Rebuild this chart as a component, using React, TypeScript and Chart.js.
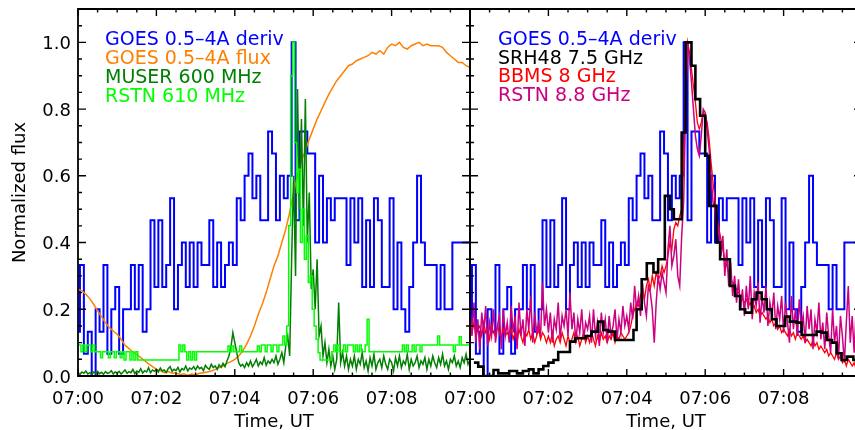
import React, { useEffect, useRef } from 'react';
import { Chart, registerables } from 'chart.js';

Chart.register(...registerables);

// ---------- tick labels ----------
const X_TICK_MIN = [0, 2, 4, 6, 8];
const X_TICK_LABELS = ['07:00', '07:02', '07:04', '07:06', '07:08'];
const Y_TICK_VALS = [0, 0.2, 0.4, 0.6, 0.8, 1.0];
const Y_TICK_LABELS = ['0.0', '0.2', '0.4', '0.6', '0.8', '1.0'];

// ---------- data (minutes after 07:00) ----------
// GOES 0.5-4A derivative, one value per 0.1 min
const goesDeriv = [
  0.133, 0.333, 0.067, 0.133, 0, 0.2, 0.133, 0.333, 0.067, 0.2,
  0.267, 0.067, 0.2, 0.2, 0.333, 0.2, 0.333, 0.133, 0.2, 0.467,
  0.267, 0.467, 0.267, 0.333, 0.533, 0.2, 0.333, 0.4, 0.267, 0.4,
  0.267, 0.4, 0.333, 0.333, 0.467, 0.267, 0.4, 0.267, 0.333, 0.4,
  0.333, 0.533, 0.467, 0.6, 0.667, 0.533, 0.6, 0.467, 0.467, 0.733,
  0.667, 0.467, 0.6, 0.533, 0.6, 1.0, 0.467, 0.733, 0.733, 0.667,
  0.667, 0.4, 0.6, 0.4, 0.533, 0.467, 0.533, 0.533, 0.533, 0.333,
  0.533, 0.4, 0.533, 0.267, 0.467, 0.267, 0.533, 0.467, 0.267, 0.267,
  0.533, 0.2, 0.4, 0.2, 0.133, 0.267, 0.4, 0.6, 0.4, 0.333,
  0.333, 0.333, 0.2, 0.333, 0.2, 0.2, 0.4, 0.4, 0.4, 0.4,
  0.4,
];

// GOES 0.5-4A flux, one value per 0.1 min
const goesFlux = [
  0.26, 0.255, 0.245, 0.232, 0.215, 0.195, 0.178, 0.16, 0.145, 0.135,
  0.125, 0.11, 0.092, 0.082, 0.072, 0.065, 0.055, 0.046, 0.036, 0.028,
  0.02, 0.016, 0.01, 0.013, 0.008, 0.01, 0.004, 0.007, 0.002, 0.006,
  0.004, 0.008, 0.01, 0.012, 0.015, 0.019, 0.025, 0.03, 0.038, 0.043,
  0.05, 0.06, 0.075, 0.095, 0.12, 0.15, 0.185, 0.215, 0.25, 0.29,
  0.33, 0.36, 0.4, 0.44, 0.49, 0.55, 0.6, 0.645, 0.675, 0.71,
  0.74, 0.77, 0.795, 0.82, 0.845, 0.865, 0.885, 0.9, 0.915, 0.93,
  0.935, 0.945, 0.95, 0.955, 0.96, 0.97, 0.965, 0.975, 0.965, 0.985,
  0.995, 0.99, 1.0, 0.985, 0.98, 0.99, 0.995, 1.0, 0.99, 0.995,
  0.99, 0.99, 0.99, 0.985, 0.97, 0.96, 0.95, 0.94, 0.94, 0.93,
  0.925,
];

// MUSER 600 MHz, one value per 0.05 min
const muser600 = [
  0.01, 0.005, 0.012, 0.008, 0.015, 0.006, 0.01, 0.004, 0.012, 0.009,
  0.014, 0.007, 0.011, 0.005, 0.013, 0.008, 0.01, 0.016, 0.006, 0.012,
  0.009, 0.014, 0.006, 0.012, 0.018, 0.008, 0.013, 0.01, 0.02, 0.007,
  0.015, 0.011, 0.022, 0.009, 0.016, 0.012, 0.025, 0.01, 0.018, 0.014,
  0.02, 0.012, 0.024, 0.015, 0.018, 0.01, 0.022, 0.028, 0.014, 0.02,
  0.016, 0.026, 0.012, 0.022, 0.018, 0.03, 0.015, 0.024, 0.02, 0.028,
  0.018, 0.03, 0.022, 0.026, 0.016, 0.032, 0.024, 0.02, 0.035, 0.025,
  0.03, 0.02, 0.034, 0.026, 0.038, 0.028, 0.045, 0.06, 0.085, 0.13,
  0.1, 0.07, 0.04, 0.03, 0.035, 0.025, 0.04, 0.03, 0.045, 0.028,
  0.038, 0.05, 0.03, 0.042, 0.035, 0.055, 0.032, 0.045, 0.038, 0.05,
  0.04, 0.06, 0.035, 0.05, 0.07, 0.04, 0.09, 0.12, 0.06, 0.35,
  0.6, 0.3, 0.86, 0.5, 0.77, 0.45, 0.83, 0.4, 0.55, 0.26,
  0.32, 0.2, 0.35, 0.12, 0.15, 0.06, 0.1, 0.04, 0.08, 0.03,
  0.06, 0.02, 0.05, 0.22, 0.04, 0.07, 0.03, 0.06, 0.02, 0.05,
  0.03, 0.06, 0.02, 0.05, 0.035, 0.07, 0.025, 0.045, 0.015, 0.055,
  0.03, 0.065, 0.02, 0.04, 0.05, 0.025, 0.06, 0.035, 0.02, 0.05,
  0.04, 0.015, 0.055, 0.03, 0.06, 0.025, 0.045, 0.035, 0.065, 0.02,
  0.05, 0.03, 0.04, 0.06, 0.025, 0.045, 0.035, 0.055, 0.02, 0.05,
  0.03, 0.06, 0.04, 0.025, 0.055, 0.035, 0.065, 0.03, 0.045, 0.02,
  0.05, 0.04, 0.06, 0.03, 0.045, 0.025, 0.055, 0.04, 0.065, 0.035,
  0.05,
];

// RSTN 610 MHz, one value per 0.05 min
const rstn610 = [
  0.093, 0.093, 0.073, 0.093, 0.073, 0.093, 0.093, 0.073, 0.093, 0.073,
  0.073, 0.073, 0.055, 0.073, 0.073, 0.073, 0.055, 0.073, 0.073, 0.055,
  0.073, 0.073, 0.055, 0.073, 0.048, 0.073, 0.073, 0.048, 0.073, 0.048,
  0.073, 0.048, 0.048, 0.048, 0.048, 0.048, 0.048, 0.048, 0.048, 0.048,
  0.048, 0.048, 0.048, 0.048, 0.048, 0.048, 0.048, 0.048, 0.048, 0.048,
  0.048, 0.048, 0.093, 0.073, 0.093, 0.073, 0.048, 0.073, 0.048, 0.073,
  0.048, 0.073, 0.073, 0.073, 0.073, 0.073, 0.073, 0.073, 0.073, 0.073,
  0.073, 0.073, 0.073, 0.073, 0.073, 0.073, 0.073, 0.09, 0.073, 0.09,
  0.073, 0.073, 0.073, 0.09, 0.073, 0.073, 0.073, 0.073, 0.073, 0.073,
  0.073, 0.073, 0.09, 0.073, 0.093, 0.093, 0.073, 0.093, 0.093, 0.073,
  0.093, 0.093, 0.073, 0.093, 0.093, 0.12, 0.093, 0.15, 0.45, 0.9,
  1.0, 0.7, 0.55, 0.62, 0.4, 0.5, 0.35, 0.42, 0.28, 0.3,
  0.2, 0.15, 0.11, 0.07, 0.048, 0.048, 0.048, 0.048, 0.048, 0.048,
  0.073, 0.093, 0.073, 0.093, 0.073, 0.073, 0.093, 0.073, 0.093, 0.093,
  0.093, 0.073, 0.093, 0.073, 0.093, 0.073, 0.073, 0.093, 0.17, 0.073,
  0.073, 0.073, 0.073, 0.073, 0.073, 0.073, 0.073, 0.073, 0.073, 0.073,
  0.073, 0.073, 0.073, 0.073, 0.073, 0.073, 0.093, 0.073, 0.093, 0.073,
  0.073, 0.093, 0.073, 0.093, 0.093, 0.073, 0.093, 0.093, 0.093, 0.093,
  0.093, 0.093, 0.093, 0.093, 0.12, 0.093, 0.093, 0.093, 0.093, 0.093,
  0.093, 0.093, 0.073, 0.093, 0.093, 0.118, 0.093, 0.093, 0.093, 0.093,
  0.093,
];

// BBMS 8 GHz, one value per 0.05 min
const bbms8 = [
  0.15, 0.13, 0.16, 0.12, 0.14, 0.15, 0.12, 0.16, 0.13, 0.14,
  0.11, 0.15, 0.13, 0.12, 0.15, 0.13, 0.11, 0.14, 0.12, 0.13,
  0.12, 0.14, 0.11, 0.13, 0.1, 0.14, 0.12, 0.1, 0.13, 0.12,
  0.14, 0.11, 0.13, 0.1, 0.12, 0.14, 0.11, 0.13, 0.12, 0.1,
  0.12, 0.1, 0.13, 0.09, 0.11, 0.12, 0.1, 0.13, 0.11, 0.09,
  0.12, 0.1, 0.11, 0.13, 0.1, 0.12, 0.09, 0.11, 0.13, 0.1,
  0.12, 0.1, 0.13, 0.11, 0.09, 0.12, 0.1, 0.13, 0.11, 0.12,
  0.1, 0.12, 0.11, 0.13, 0.1, 0.12, 0.11, 0.13, 0.12, 0.11,
  0.12, 0.13, 0.15, 0.18, 0.2, 0.22, 0.21, 0.24, 0.26, 0.23,
  0.27, 0.29, 0.26, 0.3, 0.27, 0.31, 0.29, 0.3, 0.33, 0.31,
  0.33, 0.36, 0.4, 0.38, 0.44, 0.46, 0.45, 0.48, 0.5, 0.65,
  0.85, 1.0, 0.97, 0.92, 0.87, 0.82, 0.76, 0.74, 0.76, 0.79,
  0.78, 0.76, 0.71, 0.64, 0.58, 0.53, 0.48, 0.44, 0.41, 0.38,
  0.35, 0.33, 0.31, 0.29, 0.28, 0.27, 0.26, 0.25, 0.24, 0.23,
  0.22, 0.23, 0.21, 0.22, 0.2, 0.21, 0.19, 0.2, 0.18, 0.19,
  0.18, 0.17, 0.18, 0.16, 0.17, 0.15, 0.16, 0.14, 0.15, 0.13,
  0.14, 0.13, 0.12, 0.14, 0.12, 0.13, 0.11, 0.13, 0.12, 0.11,
  0.12, 0.1, 0.11, 0.1, 0.09, 0.11, 0.09, 0.1, 0.08, 0.09,
  0.08, 0.07, 0.08, 0.06, 0.07, 0.06, 0.05, 0.07, 0.05, 0.06,
  0.04, 0.05, 0.03, 0.05, 0.04, 0.03, 0.04, 0.02, 0.03, 0.02,
  0.03,
];

// RSTN 8.8 GHz, one value per 0.05 min
const rstn88 = [
  0.2, 0.12, 0.22, 0.1, 0.17, 0.08, 0.19, 0.13, 0.21, 0.09,
  0.16, 0.12, 0.2, 0.1, 0.15, 0.18, 0.08, 0.2, 0.12, 0.16,
  0.1, 0.21, 0.13, 0.18, 0.08, 0.22, 0.12, 0.17, 0.09, 0.2,
  0.14, 0.24, 0.1, 0.19, 0.13, 0.16, 0.12, 0.28, 0.15, 0.2,
  0.13, 0.19, 0.1, 0.17, 0.14, 0.22, 0.11, 0.18, 0.15, 0.2,
  0.12, 0.25, 0.14, 0.19, 0.1, 0.17, 0.13, 0.2, 0.11, 0.16,
  0.14, 0.18, 0.1, 0.2, 0.12, 0.16, 0.09, 0.19, 0.13, 0.17,
  0.1, 0.18, 0.12, 0.15, 0.2, 0.11, 0.17, 0.13, 0.21, 0.15,
  0.18, 0.14, 0.22, 0.17, 0.27, 0.2, 0.24, 0.18, 0.28, 0.22,
  0.18, 0.27, 0.25, 0.2, 0.1, 0.22, 0.3, 0.26, 0.31, 0.28,
  0.25, 0.38, 0.45, 0.33, 0.36, 0.41, 0.3, 0.27, 0.42, 0.52,
  0.8, 1.0, 0.95, 0.88, 0.8, 0.72, 0.68, 0.66, 0.72, 0.8,
  0.79, 0.74, 0.68, 0.6, 0.52, 0.5, 0.4, 0.45, 0.36, 0.42,
  0.3, 0.38, 0.27, 0.34, 0.24, 0.3, 0.22, 0.29, 0.2, 0.26,
  0.18, 0.27, 0.2, 0.3, 0.17, 0.25, 0.21, 0.28, 0.16, 0.24,
  0.19, 0.27, 0.15, 0.22, 0.18, 0.25, 0.14, 0.21, 0.17, 0.24,
  0.13, 0.22, 0.16, 0.1, 0.24, 0.14, 0.2, 0.12, 0.23, 0.15,
  0.18, 0.1, 0.21, 0.14, 0.2, 0.08, 0.17, 0.13, 0.22, 0.11,
  0.16, 0.08, 0.19, 0.12, 0.07, 0.2, 0.1, 0.15, 0.05, 0.18,
  0.12, 0.04, 0.16, 0.27, 0.1, 0.18, 0.07, 0.2, 0.12, 0.22,
  0.15,
];

// SRH48 7.5 GHz: step start times (min) and values
const srhT = [
  0.1, 0.21, 0.34, 0.6, 0.72, 1.0, 1.2, 1.35, 1.5, 1.62,
  1.75, 1.87, 2.0, 2.13, 2.25, 2.55, 2.68, 2.95, 3.1, 3.27,
  3.4, 3.53, 3.7, 4.17, 4.25, 4.38, 4.51, 4.68, 4.8, 4.97,
  5.1, 5.2, 5.4, 5.5, 5.65, 5.75, 5.87, 6.0, 6.1, 6.29,
  6.38, 6.63, 6.76, 6.89, 7.02, 7.19, 7.31, 7.44, 7.57, 7.7,
  7.82, 8.04, 8.16, 8.33, 8.46, 8.84, 8.97, 9.1, 9.23, 9.35,
  9.48, 9.61, 9.78, 10.0,
];
const srhV = [
  0.04, 0.028, 0.0, 0.018, 0.008, 0.015, 0.008, 0.015, 0.02, 0.008,
  0.02, 0.03, 0.04, 0.048, 0.072, 0.103, 0.113, 0.12, 0.133, 0.163,
  0.138, 0.133, 0.108, 0.138, 0.2, 0.29, 0.338, 0.31, 0.35, 0.54,
  0.5, 0.47, 0.73, 1.0, 0.93, 0.83, 0.78, 0.66, 0.51, 0.4,
  0.35, 0.27, 0.24, 0.2, 0.19, 0.23, 0.25, 0.23, 0.2, 0.17,
  0.15, 0.178, 0.163, 0.16, 0.123, 0.133, 0.13, 0.108, 0.1, 0.068,
  0.048, 0.058, 0.048, 0.048,
];

// ---------- helpers ----------
const seq = (vals: number[], dt: number) => vals.map((v, i) => ({ x: i * dt, y: v }));
const pairs = (ts: number[], vs: number[]) => ts.map((t, i) => ({ x: t, y: vs[i] }));

const FONT = '"DejaVu Sans", sans-serif';

const framePlugin = {
  id: 'frame',
  afterDatasetsDraw(chart: any) {
    const { ctx, chartArea: a } = chart;
    const xs = chart.scales.x;
    const ys = chart.scales.y;
    ctx.save();
    ctx.strokeStyle = '#000';
    ctx.lineWidth = 1.8;
    ctx.beginPath();
    ctx.rect(a.left, a.top, a.right - a.left, a.bottom - a.top);
    ctx.stroke();
    ctx.lineWidth = 1.4;
    ctx.beginPath();
    for (let i = 0; i <= 20; i++) {
      const px = xs.getPixelForValue(i * 0.5);
      const len = i % 4 === 0 ? 7 : 3.5;
      ctx.moveTo(px, a.bottom);
      ctx.lineTo(px, a.bottom - len);
      ctx.moveTo(px, a.top);
      ctx.lineTo(px, a.top + len);
    }
    for (let i = 0; i <= 22; i++) {
      const py = ys.getPixelForValue(i * 0.05);
      const len = i % 4 === 0 ? 8 : 4;
      ctx.moveTo(a.left, py);
      ctx.lineTo(a.left + len, py);
      ctx.moveTo(a.right, py);
      ctx.lineTo(a.right - len, py);
    }
    ctx.stroke();
    ctx.restore();
  },
};

const textPlugin = {
  id: 'texts',
  afterDraw(chart: any, _args: any, opts: any) {
    const { ctx, chartArea: a } = chart;
    const xs = chart.scales.x;
    const ys = chart.scales.y;
    ctx.save();
    ctx.fillStyle = '#000';
    ctx.font = `18px ${FONT}`;
    ctx.textBaseline = 'alphabetic';
    ctx.textAlign = 'center';
    X_TICK_MIN.forEach((m, i) => {
      ctx.fillText(X_TICK_LABELS[i], xs.getPixelForValue(m), a.bottom + 28);
    });
    ctx.fillText('Time, UT', (a.left + a.right) / 2, a.bottom + 51);
    if (opts.yAxis) {
      ctx.textAlign = 'right';
      Y_TICK_VALS.forEach((v, i) => {
        ctx.fillText(Y_TICK_LABELS[i], a.left - 7, ys.getPixelForValue(v) + 6.5);
      });
      ctx.save();
      ctx.translate(25, (a.top + a.bottom) / 2);
      ctx.rotate(-Math.PI / 2);
      ctx.textAlign = 'center';
      ctx.fillText('Normalized flux', 0, 0);
      ctx.restore();
    }
    ctx.font = `19px ${FONT}`;
    ctx.textAlign = 'left';
    chart.data.datasets.forEach((ds: any, i: number) => {
      ctx.fillStyle = ds.borderColor;
      ctx.fillText(ds.label, opts.legendX, opts.legendY + i * opts.legendDy);
    });
    ctx.restore();
  },
};

const baseOptions = (padLeft: number, textOpts: any) => ({
  animation: false,
  responsive: false,
  maintainAspectRatio: false,
  events: [],
  layout: { padding: { left: padLeft, right: 10, top: 9, bottom: 54 } },
  elements: { point: { radius: 0 }, line: { tension: 0, fill: false } },
  plugins: {
    legend: { display: false },
    tooltip: { enabled: false },
    texts: textOpts,
  },
  scales: {
    x: { type: 'linear', min: 0, max: 10, display: false },
    y: { type: 'linear', min: 0, max: 1.1, display: false },
  },
});

export default function App() {
  const leftRef = useRef<HTMLCanvasElement>(null);
  const rightRef = useRef<HTMLCanvasElement>(null);

  useEffect(() => {
    const left = new Chart(leftRef.current as HTMLCanvasElement, {
      type: 'line',
      data: {
        datasets: [
          { label: 'GOES 0.5–4A deriv', data: seq(goesDeriv, 0.1), borderColor: '#0000ff', borderWidth: 2, stepped: 'middle', order: 4 },
          { label: 'GOES 0.5–4A flux', data: seq(goesFlux, 0.1), borderColor: '#ff8000', borderWidth: 1.5, order: 3 },
          { label: 'MUSER 600 MHz', data: seq(muser600, 0.05), borderColor: '#007f00', borderWidth: 1.5, order: 2 },
          { label: 'RSTN 610 MHz', data: seq(rstn610, 0.05), borderColor: '#00ff00', borderWidth: 1.5, stepped: 'middle', order: 1 },
        ],
      },
      options: baseOptions(78, { yAxis: true, legendX: 105, legendY: 45, legendDy: 19 }) as any,
      plugins: [framePlugin, textPlugin],
    } as any);

    const right = new Chart(rightRef.current as HTMLCanvasElement, {
      type: 'line',
      data: {
        datasets: [
          { label: 'GOES 0.5–4A deriv', data: seq(goesDeriv, 0.1), borderColor: '#0000ff', borderWidth: 2, stepped: 'middle', order: 3 },
          { label: 'SRH48 7.5 GHz', data: pairs(srhT, srhV), borderColor: '#000000', borderWidth: 2.6, stepped: true, order: 0 },
          { label: 'BBMS 8 GHz', data: seq(bbms8, 0.05), borderColor: '#ff0000', borderWidth: 1.3, order: 2 },
          { label: 'RSTN 8.8 GHz', data: seq(rstn88, 0.05), borderColor: '#cc0080', borderWidth: 1.5, order: 1 },
        ],
      },
      options: baseOptions(40, { yAxis: false, legendX: 68, legendY: 45, legendDy: 18.7 }) as any,
      plugins: [framePlugin, textPlugin],
    } as any);

    return () => {
      left.destroy();
      right.destroy();
    };
  }, []);

  return (
    <div style={{ position: 'absolute', left: 0, top: 0, width: 855, height: 430, overflow: 'hidden', background: '#fff' }}>
      <canvas ref={leftRef} width={480} height={430} style={{ position: 'absolute', left: 0, top: 0, width: 480, height: 430 }} />
      <canvas ref={rightRef} width={442} height={430} style={{ position: 'absolute', left: 430, top: 0, width: 442, height: 430 }} />
    </div>
  );
}
